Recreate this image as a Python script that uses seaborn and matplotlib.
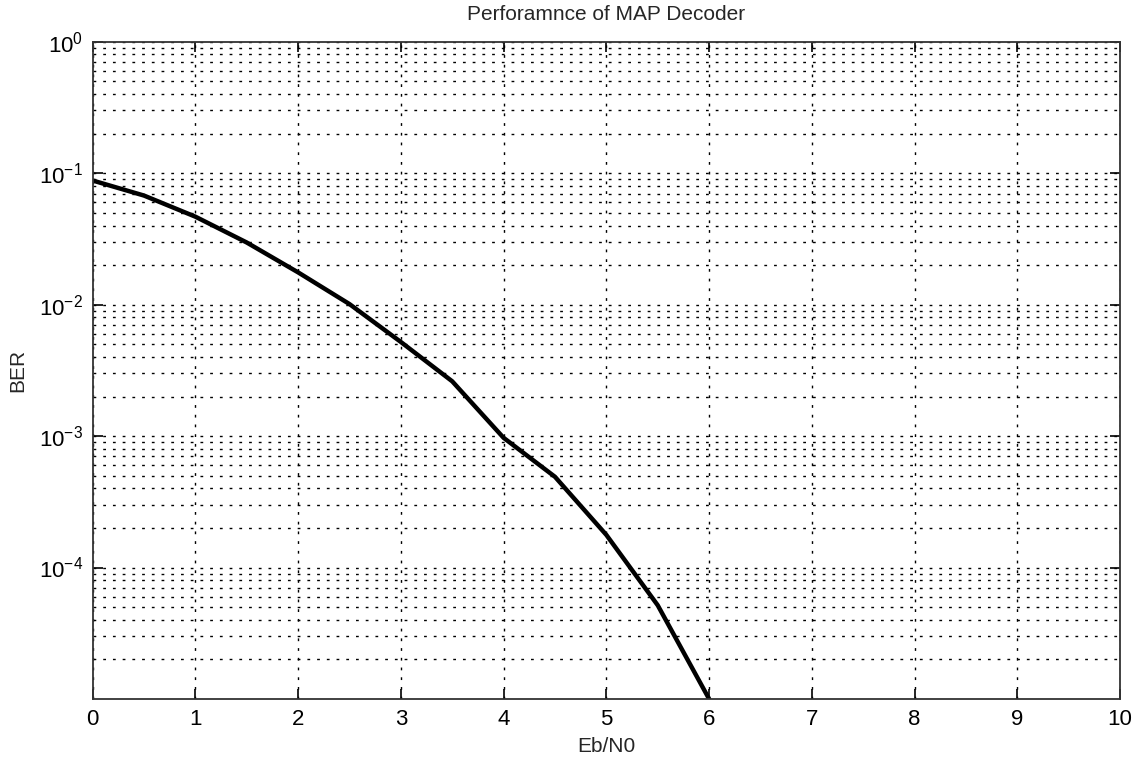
import numpy as np
import pandas as pd
import seaborn as sns
import matplotlib
matplotlib.use("Agg")
import matplotlib.pyplot as plt
from matplotlib.ticker import LogLocator, NullFormatter

# Eb/N0 (dB) ve BER degerleri
ebn0 = [0, 0.5, 1, 1.5, 2, 2.5, 3, 3.5, 4, 4.5, 5, 5.5, 6]
ber = [0.088, 0.0676, 0.0467, 0.0297, 0.0176, 0.0101, 0.0052,
       0.00261, 0.00097, 0.00049, 0.000177, 0.0000516, 0.00001]
x_ticks = [0, 1, 2, 3, 4, 5, 6, 7, 8, 9, 10]
y_ticks = [1e-4, 1e-3, 1e-2, 1e-1, 1e0]

df = pd.DataFrame({"Eb/N0": ebn0, "BER": ber})

sns.set_style("ticks")
plt.rcParams["font.family"] = ["Liberation Sans", "DejaVu Sans"]
plt.rcParams["mathtext.fontset"] = "custom"
plt.rcParams["mathtext.rm"] = "Liberation Sans"
plt.rcParams["mathtext.default"] = "regular"

fig = plt.figure(figsize=(11.43, 7.66), dpi=100)
ax = fig.add_axes([0.081, 0.0875, 0.899, 0.858])

sns.lineplot(x="Eb/N0", y="BER", data=df, color="black", linewidth=3.2, ax=ax)
ax.set_yscale("log")
ax.set_xlim(0, 10)
ax.set_ylim(1e-5, 1)
ax.set_xticks(x_ticks)
ax.set_yticks(y_ticks)
ax.yaxis.set_minor_locator(LogLocator(base=10, subs=np.arange(2, 10), numticks=20))
ax.yaxis.set_minor_formatter(NullFormatter())

# MATLAB tarzi noktali izgara
grid_kw = dict(color="black", linestyle=(0, (2, 5)), linewidth=1.0)
ax.grid(True, which="major", axis="both", **grid_kw)
ax.grid(True, which="minor", axis="y", **grid_kw)

ax.tick_params(which="major", direction="in", length=7, width=1.2,
               top=True, right=True, labelsize=16, colors="black", pad=7)
ax.tick_params(which="minor", direction="in", length=0, top=True, right=True)
for s in ax.spines.values():
    s.set_linewidth(1.3)
    s.set_color("#333333")

ax.set_xlabel("Eb/N0", fontsize=15, labelpad=5)
ax.set_ylabel("BER", fontsize=15, labelpad=8)
ax.set_title("Perforamnce of MAP Decoder", fontsize=15, pad=16)

plt.savefig("out.png", dpi=100)
